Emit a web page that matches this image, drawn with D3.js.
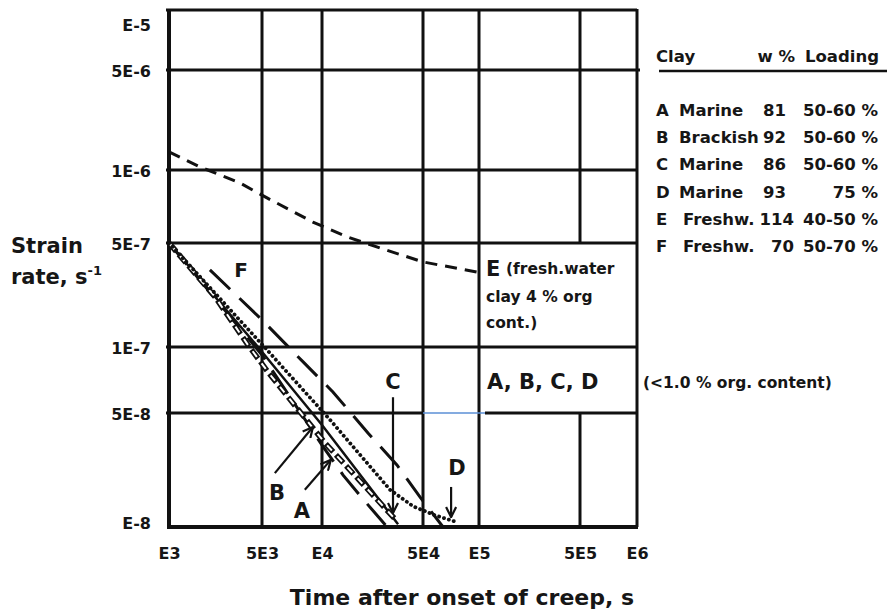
<!DOCTYPE html>
<html><head><meta charset="utf-8">
<script src="https://cdn.jsdelivr.net/npm/d3@7"></script>
<style>
body{margin:0;background:#fff}
svg text{font-family:"DejaVu Sans",sans-serif;font-weight:bold;fill:#161616}
</style></head><body>
<svg id="chart" width="887" height="615"></svg>
<script>
// axis ticks (hand-spaced log grid)
const xTicks = [1e3, 5e3, 1e4, 5e4, 1e5, 5e5, 1e6];
const xTickLabels = ["E3", "5E3", "E4", "5E4", "E5", "5E5", "E6"];
const yTicks = [1e-8, 5e-8, 1e-7, 5e-7, 1e-6, 5e-6, 1e-5];
const yTickLabels = ["E-8", "5E-8", "1E-7", "5E-7", "1E-6", "5E-6", "E-5"];

// creep curves: time after onset of creep (s) and strain rate (1/s)
const timeA = [1e3, 5e3, 1e4, 1.40e4, 1.89e4, 2.82e4];
const rateA = [5e-7, 9.2e-8, 3.18e-8, 2.08e-8, 1.51e-8, 1e-8];
const timeB = [1e3, 2.22e3, 3.93e3, 5.36e3, 1.05e4, 3.2e4];
const rateB = [5e-7, 2.17e-7, 1.03e-7, 7.69e-8, 3.27e-8, 1.12e-8];
const timeC = [1e3, 4.67e3, 1e4, 3.36e4];
const rateC = [5e-7, 1e-7, 4.22e-8, 1.04e-8];
const timeD = [1e3, 5.3e3, 1.14e4, 2.96e4, 4.27e4, 5.8e4, 7.62e4];
const rateD = [5e-7, 9.7e-8, 4.53e-8, 1.69e-8, 1.34e-8, 1.18e-8, 1.07e-8];
const timeE = [1.0e3, 1.71e3, 3.42e3, 5.3e3, 9.0e3, 1.49e4, 2.52e4, 5.0e4, 9.75e4];
const rateE = [1.34e-6, 1.05e-6, 8.84e-7, 7.67e-7, 6.1e-7, 5.3e-7, 4.63e-7, 3.73e-7, 3.19e-7];
const timeF = [2.03e3, 5e3, 8.04e3, 1.19e4, 2.08e4, 3.30e4, 4.76e4, 6.41e4];
const rateF = [3.30e-7, 1.52e-7, 8.55e-8, 6.24e-8, 3.77e-8, 2.40e-8, 1.53e-8, 1e-8];

// legend table
const clayIds = ["A", "B", "C", "D", "E", "F"];
const clayTypes = ["Marine", "Brackish", "Marine", "Marine", "Freshw.", "Freshw."];
const waterContent = ["81", "92", "86", "93", "114", "70"];
const loadingRange = ["50-60 %", "50-60 %", "50-60 %", "75 %", "40-50 %", "50-70 %"];

const svg = d3.select("#chart");
const x = d3.scaleLog().domain(xTicks).range([169, 262, 322, 423, 479, 580, 637]);
const y = d3.scaleLog().domain(yTicks).range([527, 413, 347, 243, 170, 70, 10]);

const grid = svg.append("g").attr("stroke", "#111").attr("stroke-width", 3).attr("fill", "none");

// vertical grid lines (5E5 line interrupted by the annotation box)
xTicks.slice(1, -1).forEach(t => {
  if (t === 5e5) {
    grid.append("line").attr("x1", x(t)).attr("x2", x(t)).attr("y1", y(1e-5)).attr("y2", y(5e-7));
    grid.append("line").attr("x1", x(t)).attr("x2", x(t)).attr("y1", y(5e-8)).attr("y2", y(1e-8));
  } else {
    grid.append("line").attr("x1", x(t)).attr("x2", x(t)).attr("y1", y(1e-5)).attr("y2", y(1e-8));
  }
});
// horizontal grid lines
yTicks.slice(1).forEach(r => {
  if (r === 5e-8) {
    grid.append("line").attr("x1", x(1e3) - 3).attr("x2", x(5e4)).attr("y1", y(r)).attr("y2", y(r));
    grid.append("line").attr("x1", x(1.1e5)).attr("x2", x(1e6)).attr("y1", y(r)).attr("y2", y(r));
    svg.append("line").attr("x1", x(5e4)).attr("x2", x(1.1e5)).attr("y1", y(r)).attr("y2", y(r))
      .attr("stroke", "#5b8fd6").attr("stroke-width", 1.6);
  } else {
    grid.append("line").attr("x1", x(1e3) - 3).attr("x2", x(1e6) + (r === 5e-6 ? 3 : 0)).attr("y1", y(r)).attr("y2", y(r));
  }
});
grid.append("line").attr("x1", x(1e6)).attr("x2", x(1e6)).attr("y1", y(1e-5) - 1).attr("y2", y(1e-8));
// frame axes
svg.append("line").attr("x1", x(1e3)).attr("x2", x(1e3)).attr("y1", y(1e-5) - 1).attr("y2", y(1e-8) + 2)
  .attr("stroke", "#111").attr("stroke-width", 4);
svg.append("line").attr("x1", x(1e3) - 2).attr("x2", x(1e6) + 1).attr("y1", y(1e-8)).attr("y2", y(1e-8))
  .attr("stroke", "#111").attr("stroke-width", 4);

// tick labels through d3 axes
const xAxis = svg.append("g").attr("transform", `translate(0,${y(1e-8)})`)
  .call(d3.axisBottom(x).tickValues(xTicks).tickFormat((d, i) => xTickLabels[i]).tickSize(0).tickPadding(21));
const yAxis = svg.append("g").attr("transform", `translate(${x(1e3) - 18},0)`)
  .call(d3.axisLeft(y).tickValues(yTicks).tickFormat((d, i) => yTickLabels[i]).tickSize(0).tickPadding(0));
[xAxis, yAxis].forEach(a => {
  a.select(".domain").remove();
  a.selectAll("text").attr("font-size", 16).attr("font-family", null).style("fill", "#161616");
});
yAxis.selectAll(".tick text").attr("dy", (d) => d === 1e-5 ? "1.25em" : d === 1e-8 ? "0.1em" : "0.38em");

// curves
const line = d3.line().x(d => x(d[0])).y(d => y(d[1]));
const pts = (t, r) => t.map((v, i) => [v, r[i]]);
const curves = svg.append("g").attr("fill", "none").attr("stroke", "#111");

curves.append("path").attr("d", line(pts(timeE, rateE)))
  .attr("stroke-width", 3).attr("stroke-dasharray", "12,8");
curves.append("path").attr("d", line(pts(timeF, rateF)))
  .attr("stroke-width", 3).attr("stroke-dasharray", "28,13");
curves.append("path").attr("d", line(pts(timeA, rateA)))
  .attr("stroke-width", 3).attr("stroke-dasharray", "28,13");
curves.append("path").attr("d", line(pts(timeC, rateC)))
  .attr("stroke-width", 2.5);
curves.append("path").attr("d", line(pts(timeB, rateB)))
  .attr("stroke-width", 5.5).attr("stroke-dasharray", "11,4");
curves.append("path").attr("d", line(pts(timeB, rateB)))
  .attr("stroke", "#fff").attr("stroke-width", 2).attr("stroke-dasharray", "7,8").attr("stroke-dashoffset", -2);
curves.append("path").attr("d", line(pts(timeD, rateD)))
  .attr("stroke-width", 3.8).attr("stroke-dasharray", "0.1,5").attr("stroke-linecap", "round");

// arrows pointing at the curves
svg.append("defs").append("marker").attr("id", "head")
  .attr("viewBox", "0 0 12 12").attr("refX", 11).attr("refY", 6)
  .attr("markerWidth", 12).attr("markerHeight", 12).attr("markerUnits", "userSpaceOnUse")
  .attr("orient", "auto")
  .append("path").attr("d", "M1,1 L11,6 L1,11").attr("fill", "none").attr("stroke", "#111").attr("stroke-width", 2.2);

const arrows = [
  [[5.8e3, 2.14e-8], [9.0e3, 4.1e-8]],
  [[8.2e3, 1.69e-8], [1.15e4, 2.58e-8]],
  [[3.1e4, 5.9e-8], [3.1e4, 1.22e-8]],
  [[7.08e4, 1.76e-8], [7.08e4, 1.15e-8]]
];
arrows.forEach(([a, b]) => {
  svg.append("line").attr("x1", x(a[0])).attr("y1", y(a[1])).attr("x2", x(b[0])).attr("y2", y(b[1]))
    .attr("stroke", "#111").attr("stroke-width", 2.2).attr("marker-end", "url(#head)");
});

// in-plot labels
const lab = (tx, px, py, size, anchor) =>
  svg.append("text").attr("x", px).attr("y", py).attr("font-size", size)
    .attr("text-anchor", anchor || "start").text(tx);
lab("F", 241, 277, 20, "middle");
lab("E", 486, 276, 21);
lab("(fresh.water", 506, 274, 15.5);
lab("clay 4 % org", 486, 302, 15.5);
lab("cont.)", 486, 328, 15.5);
lab("C", 393, 389, 21, "middle");
lab("A, B, C, D", 487, 389, 21);
lab("(<1.0 % org. content)", 643, 388, 15.5);
lab("B", 277, 500, 21, "middle");
lab("A", 302, 518, 21, "middle");
lab("D", 457, 475, 21, "middle");

// axis titles
lab("Strain", 11, 253, 21);
const rt = lab("rate, s", 11, 284, 21);
rt.append("tspan").attr("font-size", 13).attr("dy", -9).text("-1");
lab("Time after onset of creep, s", 462, 605, 22, "middle");

// legend table
const lg = svg.append("g").attr("font-size", 16.5);
lg.append("text").attr("x", 656).attr("y", 62).text("Clay");
lg.append("text").attr("x", 795).attr("y", 62).attr("text-anchor", "end").text("w %");
lg.append("text").attr("x", 879).attr("y", 62).attr("text-anchor", "end").text("Loading");
lg.append("line").attr("x1", 659).attr("x2", 887).attr("y1", 71).attr("y2", 71)
  .attr("stroke", "#111").attr("stroke-width", 2.5);
clayIds.forEach((id, i) => {
  const by = 116 + i * 27.2;
  const fresh = clayTypes[i].startsWith("Fresh");
  lg.append("text").attr("x", 656).attr("y", by).text(id);
  lg.append("text").attr("x", fresh ? 683 : 679).attr("y", by).text(clayTypes[i]);
  lg.append("text").attr("x", fresh ? 794 : 786).attr("y", by).attr("text-anchor", "end").text(waterContent[i]);
  lg.append("text").attr("x", 878).attr("y", by).attr("text-anchor", "end").text(loadingRange[i]);
});
</script>
</body></html>
